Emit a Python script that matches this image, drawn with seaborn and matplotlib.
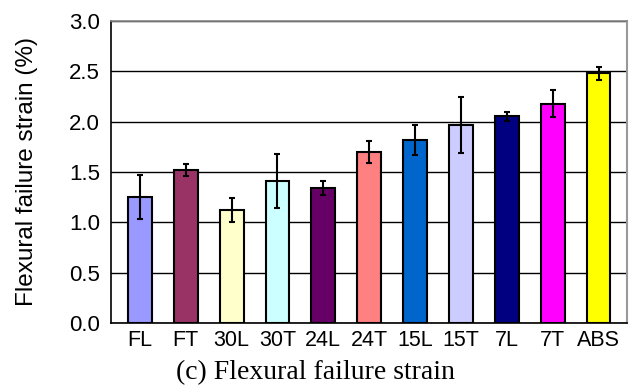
import matplotlib
matplotlib.use("Agg")
import matplotlib.pyplot as plt
import seaborn as sns
import pandas as pd

categories = ["FL", "FT", "30L", "30T", "24L", "24T", "15L", "15T", "7L", "7T", "ABS"]
strain = [1.25, 1.52, 1.12, 1.41, 1.345, 1.70, 1.82, 1.97, 2.055, 2.18, 2.48]
errors = [0.22, 0.06, 0.12, 0.27, 0.07, 0.11, 0.15, 0.28, 0.045, 0.13, 0.065]
colors = ["#9999FF", "#993366", "#FFFFCC", "#CCFFFF", "#660066", "#FF8080",
          "#0066CC", "#CCCCFF", "#000080", "#FF00FF", "#FFFF00"]
yticks = [0.0, 0.5, 1.0, 1.5, 2.0, 2.5, 3.0]

sns.set_theme(style="white")
plt.rcParams["font.family"] = ["Liberation Sans", "DejaVu Sans"]

df = pd.DataFrame({"cat": categories, "val": strain})

fig = plt.figure(figsize=(6.34, 3.90), dpi=100)
ax = fig.add_axes([111 / 634, 1 - 323 / 390, (627 - 111) / 634, (323 - 21) / 390])

sns.barplot(data=df, x="cat", y="val", hue="cat", palette=colors, order=categories,
            hue_order=categories, legend=False, width=0.52, edgecolor="black",
            linewidth=1.5, saturation=1, errorbar=None, ax=ax, zorder=3)

ax.errorbar(range(len(categories)), strain, yerr=errors, fmt="none", ecolor="black",
            elinewidth=1.5, capsize=2.5, capthick=1.5, zorder=4)

ax.set_ylim(0, 3.0)
ax.set_xlim(-0.63, len(categories) - 1 + 0.62)
ax.set_yticks(yticks)
ax.set_yticklabels([f"{t:.1f}" for t in yticks], fontsize=16)
ax.tick_params(axis="x", labelsize=15.5, length=0, pad=5)
ax.tick_params(axis="y", length=0, pad=8)
for t in ax.get_xticklabels() + ax.get_yticklabels():
    t.set_color("black")
ax.yaxis.grid(True, color="black", linewidth=1.0, zorder=0)
ax.set_axisbelow(True)
ax.set_xlabel("")
ax.set_ylabel("Flexural failure strain (%)", fontsize=17.5, color="black", labelpad=22)

ax.spines["left"].set_color("black")
ax.spines["left"].set_linewidth(1.2)
ax.spines["bottom"].set_color("black")
ax.spines["bottom"].set_linewidth(1.2)
ax.spines["right"].set_color("#999999")
ax.spines["right"].set_linewidth(1.5)
ax.spines["top"].set_color("#888888")
ax.spines["top"].set_linewidth(1.2)

fig.text(315 / 634, 1 - 373 / 390, "(c) Flexural failure strain", ha="center", va="center",
         fontsize=20, family=["Liberation Serif", "DejaVu Serif"], color="black")

fig.savefig("out.png", dpi=100)
